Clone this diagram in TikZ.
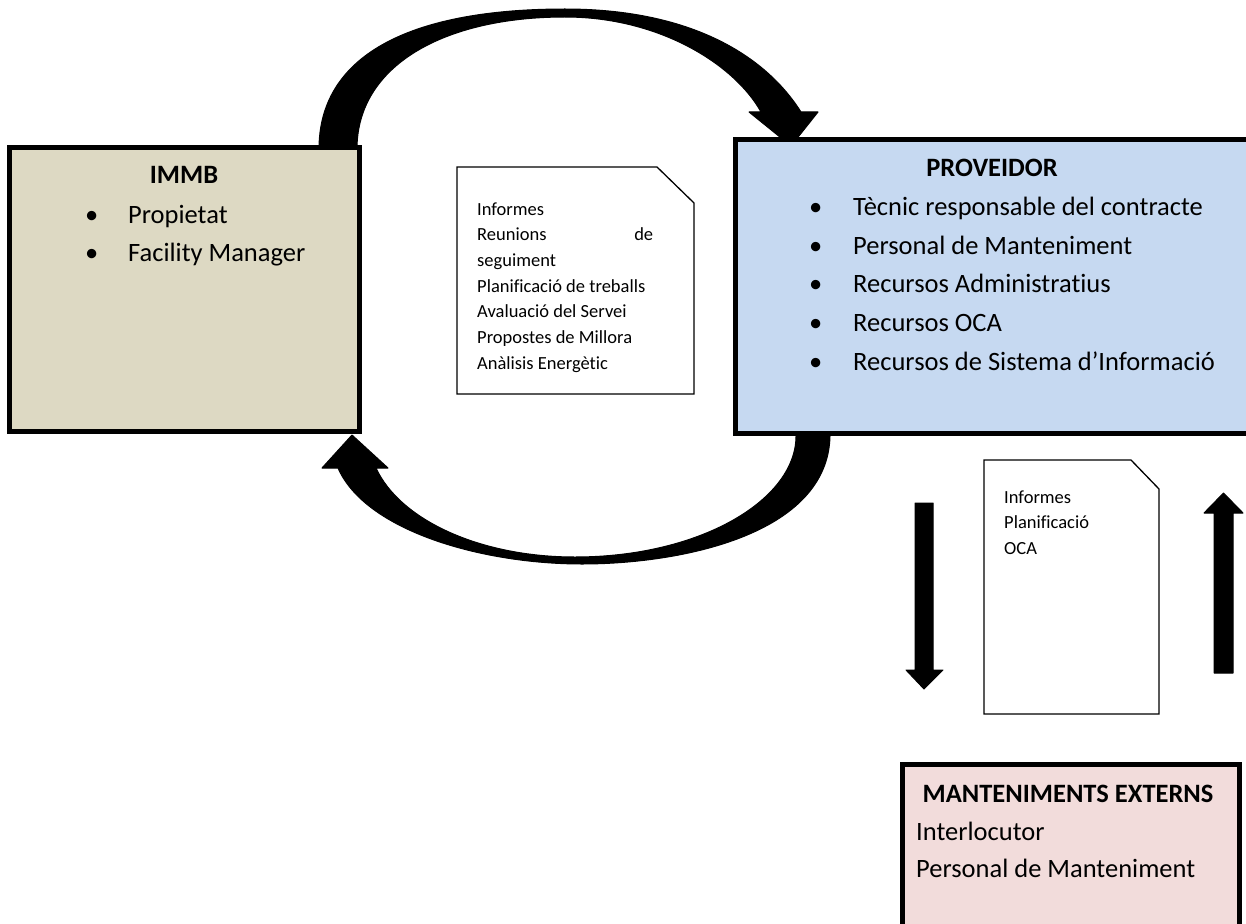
\documentclass[tikz,border=0pt]{standalone}
\usepackage{fontspec}
\setmainfont{Carlito}[Ligatures=CommonOff]
\usetikzlibrary{positioning}
\definecolor{immbtan}{HTML}{DDD9C3}
\definecolor{provblue}{HTML}{C6D9F1}
\definecolor{mantpink}{HTML}{F2DCDB}

\begin{document}
\begin{tikzpicture}
  [x=1pt,y=-1pt,
   box/.style={rectangle,draw,line width=5pt,inner sep=0pt,outer sep=0pt},
   doc/.style={rectangle,inner sep=0pt,outer sep=0pt},
   docline/.style={draw,fill=white,line width=1.3pt,line join=miter},
   big/.style={font=\fontsize{26.5}{38.6}\selectfont,inner sep=0pt,anchor=base west},
   bigtitle/.style={font=\fontsize{26.5}{38.6}\selectfont\bfseries,inner sep=0pt,anchor=base},
   small/.style={font=\fontsize{18.5}{25.6}\selectfont,inner sep=0pt,anchor=base west},
   blockarrow/.style={fill=black,draw=black,line width=1pt,line join=round}]
  \useasboundingbox (0,0) rectangle (1246,923);
  \clip (0,0) rectangle (1246,923);

  % curved block arrows
  \path[blockarrow] (319,149) .. controls (319,58) and (405,9) .. (565,9)
    .. controls (690,9) and (765,55) .. (801,112)
    -- (818,112) -- (791,146) -- (749,112) -- (761,112)
    .. controls (735,65) and (660,17) .. (565,17)
    .. controls (445,17) and (357,65) .. (357,149) -- cycle;
  \path[blockarrow] (830,436) .. controls (828,535) and (680,564) .. (582,564)
    .. controls (480,564) and (365,530) .. (338,468)
    -- (322,468) -- (352,435) -- (388,468) -- (376,468)
    .. controls (400,520) and (480,557) .. (575,557)
    .. controls (700,557) and (796,500) .. (796,436) -- cycle;

  % straight block arrows
  \path[blockarrow] (915,503) -- (933,503) -- (933,670) -- (943,670)
    -- (924,689) -- (906,670) -- (915,670) -- cycle;
  \path[blockarrow] (1214,673) -- (1233,673) -- (1233,513) -- (1243,513)
    -- (1223.5,493) -- (1204,513) -- (1214,513) -- cycle;

  % boxes
  \node[box,fill=immbtan,minimum width=350pt,minimum height=284pt]
    (immb) at (184.5,289.5) {};
  \node[box,fill=provblue,minimum width=530pt,minimum height=294pt]
    (prov) at (1000.5,286.5) {};
  \node[box,fill=mantpink,minimum width=337pt,minimum height=176pt]
    (mant) at (1071,852.5) {};

  \node[bigtitle] (immb-title) at (184,183) {IMMB};
  \foreach \txt [count=\i from 0] in {Propietat,Facility Manager} {
    \node[big] (immb-b\i) at (85,{223+38.7*\i}) {\textbullet};
    \node[big] (immb-\i) at (128,{223+38.7*\i}) {\txt};
  }

  \node[bigtitle] (prov-title) at (992,176.4) {PROVEIDOR};
  \foreach \txt [count=\i from 0] in {Tècnic responsable del contracte,
      Personal de Manteniment,Recursos Administratius,Recursos OCA,
      Recursos de Sistema d’Informació} {
    \node[big] (prov-b\i) at (809,{215.6+38.6*\i}) {\textbullet};
    \node[big] (prov-\i) at (853,{215.6+38.6*\i}) {\txt};
  }

  \node[bigtitle] (mant-title) at (1068,802) {MANTENIMENTS EXTERNS};
  \node[big] (mant-0) at (916,840) {Interlocutor};
  \node[big] (mant-1) at (916,877) {Personal de Manteniment};

  % documents
  \node[doc,minimum width=237pt,minimum height=227pt] (note1) at (575.5,280.5) {};
  \path[docline] (note1.south west) -- (note1.north west)
    -- ([xshift=-37pt]note1.north east) -- ([yshift=-36pt]note1.north east)
    -- (note1.south east) -- cycle;
  \foreach \txt [count=\i from 0] in {Informes,\makebox[176pt][s]{Reunions de},
      seguiment,Planificació de treballs,Avaluació del Servei,
      Propostes de Millora,Anàlisis Energètic}
    \node[small] (note1-\i) at (477,{215+25.7*\i}) {\txt};

  \node[doc,minimum width=175pt,minimum height=254pt] (note2) at (1071.5,587) {};
  \path[docline] (note2.south west) -- (note2.north west)
    -- ([xshift=-28pt]note2.north east) -- ([yshift=-29pt]note2.north east)
    -- (note2.south east) -- cycle;
  \foreach \txt [count=\i from 0] in {Informes,Planificació,OCA}
    \node[small] (note2-\i) at (1004,{503+25.5*\i}) {\txt};
\end{tikzpicture}
\end{document}
